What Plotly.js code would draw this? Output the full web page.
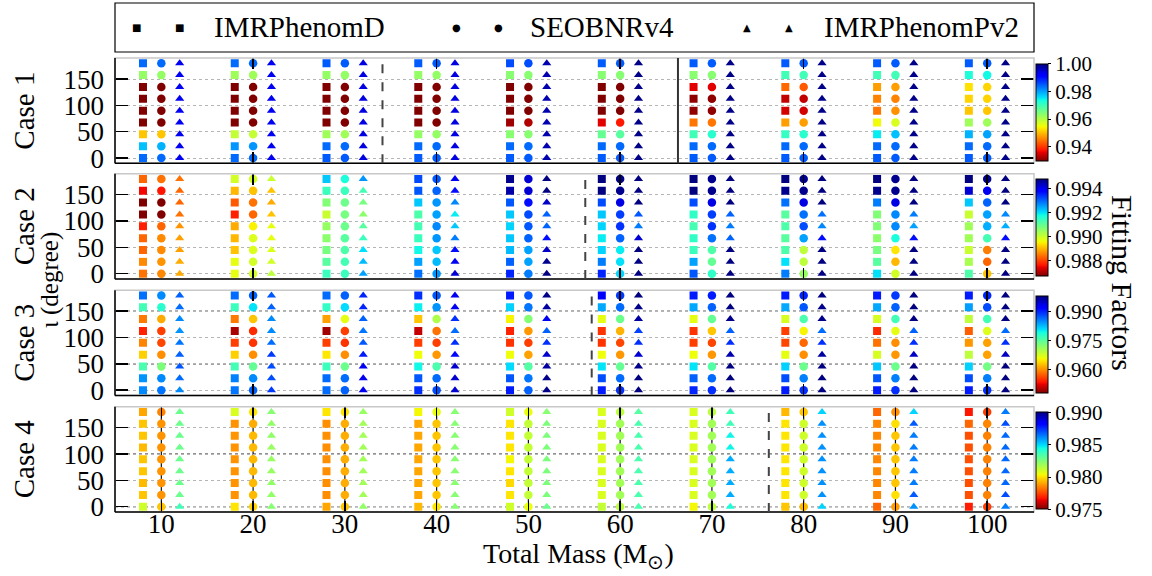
<!DOCTYPE html>
<html><head><meta charset="utf-8">
<script src="https://cdn.plot.ly/plotly-3.0.1.min.js"></script>
<style>html,body{margin:0;padding:0;background:#fff}#chart{width:1152px;height:576px}</style>
</head><body><div id="chart"></div>
<script>
const masses = [10,20,30,40,50,60,70,80,90,100];
const inclinations = [0,22.5,45,67.5,90,112.5,135,157.5,180];
const models = ['IMRPhenomD','SEOBNRv4','IMRPhenomPv2'];
const caseNames = ['Case 1','Case 2','Case 3','Case 4'];

// Fitting factors: rows = total mass (10..100), columns = inclination (0..180)
const case1_IMRPhenomD = [
 [0.984,0.978,0.951,0.925,0.925,0.925,0.925,0.963,0.984],
 [0.984,0.981,0.959,0.925,0.925,0.925,0.925,0.962,0.984],
 [0.985,0.984,0.962,0.925,0.925,0.925,0.925,0.963,0.985],
 [0.985,0.984,0.963,0.925,0.925,0.925,0.925,0.963,0.985],
 [0.985,0.984,0.964,0.932,0.930,0.926,0.926,0.964,0.986],
 [0.985,0.984,0.967,0.936,0.927,0.927,0.928,0.964,0.985],
 [0.985,0.984,0.970,0.945,0.931,0.931,0.936,0.964,0.985],
 [0.985,0.984,0.971,0.948,0.935,0.934,0.944,0.970,0.985],
 [0.985,0.984,0.975,0.955,0.945,0.946,0.948,0.970,0.985],
 [0.985,0.984,0.979,0.962,0.951,0.952,0.953,0.973,0.985]];
const case1_SEOBNRv4 = [
 [0.984,0.979,0.951,0.925,0.925,0.925,0.925,0.963,0.984],
 [0.984,0.981,0.959,0.925,0.925,0.925,0.925,0.962,0.984],
 [0.985,0.984,0.962,0.925,0.925,0.925,0.925,0.963,0.985],
 [0.985,0.984,0.963,0.925,0.925,0.925,0.925,0.963,0.985],
 [0.985,0.984,0.964,0.933,0.928,0.926,0.926,0.964,0.986],
 [0.985,0.984,0.968,0.938,0.927,0.927,0.928,0.964,0.985],
 [0.985,0.984,0.972,0.945,0.931,0.931,0.936,0.964,0.985],
 [0.985,0.984,0.972,0.948,0.935,0.934,0.943,0.970,0.985],
 [0.985,0.984,0.978,0.957,0.947,0.946,0.948,0.970,0.985],
 [0.985,0.984,0.980,0.962,0.951,0.952,0.952,0.974,0.985]];
const case1_IMRPhenomPv2 = [
 [0.993,0.993,0.993,0.993,0.993,0.993,0.993,0.993,0.993],
 [0.993,0.993,0.993,0.993,0.993,0.993,0.993,0.993,0.993],
 [0.994,0.994,0.994,0.994,0.994,0.994,0.994,0.994,0.994],
 [0.994,0.994,0.994,0.994,0.994,0.994,0.994,0.994,0.994],
 [0.997,0.997,0.997,0.997,0.997,0.997,0.997,0.997,0.997],
 [0.9995,0.9995,0.9995,0.9995,0.9995,0.9995,0.9995,0.9995,0.9995],
 [0.9995,0.9995,0.9995,0.9995,0.9995,0.9995,0.9995,0.9995,0.9995],
 [0.9995,0.9995,0.9995,0.9995,0.9995,0.9995,0.9995,0.9995,0.9995],
 [0.9995,0.9995,0.9995,0.9995,0.9995,0.9995,0.9995,0.9995,0.9995],
 [0.9995,0.9995,0.9995,0.9995,0.9995,0.9995,0.9995,0.9995,0.9995]];

const case2_IMRPhenomD = [
 [0.9884,0.9886,0.9883,0.9883,0.9877,0.9864,0.9864,0.9875,0.9883],
 [0.9897,0.9897,0.9891,0.9890,0.9889,0.9877,0.9882,0.9890,0.9899],
 [0.9914,0.9911,0.9908,0.9906,0.9905,0.9900,0.9907,0.9914,0.9922],
 [0.9929,0.9925,0.9918,0.9914,0.9913,0.9912,0.9922,0.9931,0.9932],
 [0.9935,0.9930,0.9923,0.9922,0.9921,0.9922,0.9931,0.9945,0.9947],
 [0.9935,0.9928,0.9921,0.9919,0.9921,0.9922,0.9932,0.9948,0.9948],
 [0.9931,0.9925,0.9914,0.9915,0.9913,0.9915,0.9932,0.9948,0.9948],
 [0.9928,0.9920,0.9912,0.9911,0.9912,0.9911,0.9929,0.9947,0.9948],
 [0.9920,0.9911,0.9908,0.9906,0.9907,0.9907,0.9928,0.9947,0.9948],
 [0.9912,0.9903,0.9900,0.9904,0.9904,0.9900,0.9922,0.9942,0.9948]];
const case2_SEOBNRv4 = [
 [0.9886,0.9887,0.9886,0.9886,0.9883,0.9864,0.9864,0.9876,0.9884],
 [0.9899,0.9899,0.9898,0.9898,0.9895,0.9883,0.9884,0.9891,0.9899],
 [0.9914,0.9913,0.9912,0.9911,0.9909,0.9908,0.9909,0.9914,0.9917],
 [0.9926,0.9923,0.9922,0.9926,0.9927,0.9925,0.9926,0.9930,0.9931],
 [0.9928,0.9925,0.9925,0.9930,0.9931,0.9932,0.9937,0.9942,0.9942],
 [0.9921,0.9920,0.9919,0.9930,0.9934,0.9933,0.9941,0.9947,0.9947],
 [0.9915,0.9910,0.9912,0.9929,0.9934,0.9933,0.9941,0.9947,0.9947],
 [0.9905,0.9901,0.9901,0.9925,0.9932,0.9929,0.9941,0.9947,0.9947],
 [0.9899,0.9890,0.9894,0.9917,0.9927,0.9927,0.9941,0.9947,0.9947],
 [0.9891,0.9883,0.9885,0.9913,0.9924,0.9925,0.9930,0.9940,0.9947]];
const case2_IMRPhenomPv2 = [
 [0.9889,0.9889,0.9888,0.9888,0.9887,0.9884,0.9883,0.9883,0.9884],
 [0.9901,0.9899,0.9898,0.9897,0.9897,0.9891,0.9889,0.9891,0.9900],
 [0.9925,0.9923,0.9920,0.9914,0.9911,0.9906,0.9908,0.9913,0.9926],
 [0.9942,0.9940,0.9937,0.9928,0.9922,0.9919,0.9927,0.9937,0.9940],
 [0.9948,0.9947,0.9943,0.9937,0.9930,0.9930,0.9943,0.9948,0.9949],
 [0.9949,0.9949,0.9948,0.9942,0.9928,0.9931,0.9948,0.9950,0.9950],
 [0.9950,0.9950,0.9950,0.9930,0.9928,0.9930,0.9950,0.9950,0.9950],
 [0.9950,0.9950,0.9950,0.9937,0.9927,0.9929,0.9950,0.9950,0.9950],
 [0.9950,0.9950,0.9950,0.9937,0.9925,0.9928,0.9950,0.9950,0.9950],
 [0.9950,0.9950,0.9950,0.9937,0.9924,0.9927,0.9950,0.9950,0.9950]];

const case3_IMRPhenomD = [
 [0.985,0.9845,0.976,0.9635,0.9595,0.9543,0.959,0.9765,0.9862],
 [0.986,0.9855,0.9765,0.9635,0.9558,0.9498,0.959,0.977,0.9865],
 [0.9865,0.9865,0.977,0.9648,0.9558,0.9495,0.961,0.9775,0.9865],
 [0.9895,0.9875,0.9795,0.966,0.9558,0.951,0.963,0.980,0.9895],
 [0.9905,0.9875,0.981,0.966,0.9552,0.9543,0.9655,0.9815,0.9905],
 [0.9905,0.988,0.9805,0.966,0.9552,0.9552,0.9665,0.9835,0.992],
 [0.990,0.987,0.9805,0.966,0.9558,0.9552,0.9665,0.9835,0.9905],
 [0.9905,0.988,0.9815,0.9665,0.9562,0.9558,0.9675,0.9835,0.9905],
 [0.9905,0.9875,0.982,0.9675,0.9585,0.9548,0.9675,0.9835,0.9905],
 [0.9905,0.988,0.9815,0.969,0.9605,0.9575,0.969,0.984,0.9905]];
const case3_SEOBNRv4 = [
 [0.986,0.985,0.973,0.960,0.9562,0.9558,0.9615,0.978,0.985],
 [0.987,0.985,0.9745,0.960,0.9552,0.9548,0.963,0.9805,0.987],
 [0.987,0.9865,0.974,0.960,0.9552,0.9558,0.9665,0.981,0.987],
 [0.988,0.9865,0.976,0.9605,0.9558,0.9585,0.970,0.9845,0.9875],
 [0.987,0.986,0.9755,0.961,0.9558,0.9605,0.9725,0.986,0.9875],
 [0.9895,0.9865,0.9745,0.9605,0.9562,0.962,0.974,0.9865,0.989],
 [0.9895,0.9865,0.9755,0.9605,0.9562,0.963,0.9745,0.987,0.9905],
 [0.9895,0.9855,0.974,0.960,0.958,0.9655,0.976,0.9875,0.990],
 [0.9895,0.9855,0.974,0.9605,0.960,0.9665,0.9765,0.987,0.989],
 [0.9895,0.9855,0.9735,0.961,0.961,0.967,0.9765,0.988,0.990]];
const case3_IMRPhenomPv2 = [
 [0.985,0.9865,0.9875,0.987,0.986,0.9845,0.985,0.9865,0.987],
 [0.989,0.988,0.988,0.989,0.9865,0.985,0.985,0.987,0.9875],
 [0.993,0.993,0.993,0.9905,0.9875,0.986,0.987,0.990,0.990],
 [0.9945,0.9945,0.9945,0.9915,0.9895,0.9865,0.9895,0.993,0.993],
 [0.9975,0.9975,0.9965,0.9945,0.9895,0.987,0.993,0.9965,0.9975],
 [0.998,0.998,0.9975,0.9945,0.9895,0.9885,0.9965,0.9975,0.998],
 [0.998,0.998,0.998,0.996,0.9895,0.987,0.9975,0.998,0.998],
 [0.998,0.998,0.998,0.9965,0.9895,0.9865,0.9975,0.9975,0.998],
 [0.998,0.998,0.998,0.995,0.9895,0.987,0.998,0.998,0.998],
 [0.998,0.998,0.998,0.995,0.9895,0.9865,0.998,0.998,0.998]];

const case4_IMRPhenomD = [
 [0.981,0.9795,0.9793,0.9795,0.9795,0.9793,0.9795,0.9795,0.979],
 [0.980,0.9787,0.9787,0.9787,0.9787,0.9787,0.9787,0.9787,0.9808],
 [0.979,0.9786,0.9786,0.9786,0.9786,0.9786,0.9786,0.9786,0.980],
 [0.9793,0.979,0.979,0.979,0.979,0.979,0.979,0.979,0.9803],
 [0.981,0.980,0.9798,0.980,0.9803,0.980,0.980,0.980,0.981],
 [0.9812,0.9808,0.9808,0.9808,0.9808,0.9808,0.9808,0.9808,0.9808],
 [0.9803,0.9808,0.9808,0.9808,0.9808,0.9808,0.9808,0.9808,0.9808],
 [0.9795,0.980,0.980,0.980,0.980,0.980,0.980,0.980,0.9793],
 [0.978,0.9785,0.9785,0.9785,0.9785,0.9785,0.9785,0.9785,0.978],
 [0.9768,0.9776,0.9776,0.9776,0.9776,0.9776,0.9776,0.978,0.9767]];
const case4_SEOBNRv4 = [
 [0.9795,0.9787,0.9787,0.9787,0.9787,0.9787,0.9787,0.9787,0.9784],
 [0.9797,0.9793,0.9793,0.9793,0.9793,0.9793,0.9793,0.9791,0.980],
 [0.9795,0.9791,0.9791,0.9791,0.9791,0.9791,0.9791,0.9791,0.980],
 [0.980,0.9795,0.9795,0.9795,0.9795,0.9795,0.9795,0.9795,0.9805],
 [0.9805,0.9812,0.9812,0.9812,0.9812,0.9812,0.9812,0.9812,0.9805],
 [0.9813,0.9818,0.9818,0.9818,0.9818,0.9818,0.9818,0.9818,0.9813],
 [0.9813,0.9818,0.9818,0.9818,0.9818,0.9818,0.9818,0.9818,0.9813],
 [0.9793,0.981,0.981,0.981,0.981,0.981,0.981,0.981,0.9795],
 [0.9788,0.9799,0.9795,0.9795,0.9795,0.9795,0.9795,0.9799,0.9786],
 [0.9773,0.9784,0.9784,0.9784,0.9784,0.9784,0.9784,0.9785,0.9773]];
const case4_IMRPhenomPv2 = [
 [0.9836,0.9828,0.9828,0.9828,0.9828,0.9828,0.9828,0.9828,0.9828],
 [0.9823,0.9821,0.9821,0.982,0.982,0.982,0.9821,0.9821,0.9823],
 [0.9821,0.9818,0.9818,0.9818,0.9818,0.9818,0.9818,0.9818,0.982],
 [0.9823,0.9823,0.9823,0.9823,0.9823,0.9823,0.9823,0.9823,0.9823],
 [0.9828,0.9825,0.9825,0.9825,0.9825,0.9825,0.9825,0.9825,0.9823],
 [0.9834,0.9834,0.9834,0.9834,0.9834,0.9834,0.9834,0.9834,0.9832],
 [0.9842,0.9856,0.9856,0.9856,0.9856,0.9845,0.9845,0.9836,0.9836],
 [0.985,0.986,0.986,0.986,0.986,0.986,0.986,0.986,0.985],
 [0.986,0.9868,0.9863,0.9863,0.9863,0.9863,0.9863,0.9868,0.985],
 [0.9863,0.987,0.9866,0.9866,0.9866,0.9866,0.9866,0.987,0.9863]];

const colorRanges = [[0.93,1.00],[0.9867,0.9948],[0.948,0.998],[0.975,0.990]];
const colorbarTicks = [[0.94,0.96,0.98,1.00],[0.988,0.990,0.992,0.994],[0.960,0.975,0.990],[0.975,0.980,0.985,0.990]];
const colorbarFormats = ['.2f','.3f','.3f','.3f'];
const dashedLines = [[34.1],[56.2],[56.9],[76.2]];
const solidLines = [[66.3],[],[],[]];
const blackDottedGrid = [[],[],[50,150],[0,100]];
const case4MassLines = masses;

// ---------------- styling ----------------
const FONT = 'Liberation Serif, Times New Roman, serif';
const W = 1152, H = 576;
const M = {l:115, r:118, t:58, b:64};
const PW = W - M.l - M.r, PH = H - M.t - M.b;
const px2x = p => (p - M.l) / PW;
const py2y = p => (H - M.b - p) / PH;
const domains = [[0.768,1.0],[0.5133,0.7453],[0.2567,0.4887],[0,0.232]];
const symbols = ['square','circle','triangle-up'];
const sizes = [8,8.5,8];
const offsets = [-2, 0, 2];
const data = [
 [case1_IMRPhenomD, case1_SEOBNRv4, case1_IMRPhenomPv2],
 [case2_IMRPhenomD, case2_SEOBNRv4, case2_IMRPhenomPv2],
 [case3_IMRPhenomD, case3_SEOBNRv4, case3_IMRPhenomPv2],
 [case4_IMRPhenomD, case4_SEOBNRv4, case4_IMRPhenomPv2]];

// matplotlib "jet" reversed
const jetR=[[0,0],[0.35,0],[0.66,1],[0.89,1],[1,0.5]];
const jetG=[[0,0],[0.125,0],[0.375,1],[0.64,1],[0.91,0],[1,0]];
const jetB=[[0,0.5],[0.11,1],[0.34,1],[0.65,0],[1,0]];
function seg(s,x){for(let i=0;i<s.length-1;i++){if(x>=s[i][0]&&x<=s[i+1][0]){const f=(x-s[i][0])/(s[i+1][0]-s[i][0]||1);return s[i][1]+f*(s[i+1][1]-s[i][1]);}}return s[s.length-1][1];}
const jet_r=[];
for(let i=0;i<=100;i++){const p=i/100,q=1-p;jet_r.push([p,`rgb(${Math.round(255*seg(jetR,q))},${Math.round(255*seg(jetG,q))},${Math.round(255*seg(jetB,q))})`]);}

const traces=[]; const layout={
 width:W,height:H,margin:M,paper_bgcolor:'#fff',plot_bgcolor:'#fff',showlegend:false,
 font:{family:FONT,color:'#000'},shapes:[],annotations:[]};

for(let c=0;c<4;c++){
 const sfx = c===0?'':String(c+1);
 const xa='x'+sfx, ya='y'+sfx;
 for(let m=0;m<3;m++){
  const xs=[],ys=[],cs=[];
  masses.forEach((ms,j)=>inclinations.forEach((inc,k)=>{xs.push(ms+offsets[m]);ys.push(inc);cs.push(data[c][m][j][k]);}));
  const yc=(domains[c][0]+domains[c][1])/2 - 1.5/PH;
  traces.push({type:'scatter',mode:'markers',x:xs,y:ys,xaxis:xa,yaxis:ya,name:models[m],
   marker:{symbol:symbols[m],size:sizes[m],color:cs,cmin:colorRanges[c][0],cmax:colorRanges[c][1],colorscale:jet_r,line:{width:0},
    showscale:m===0,
    colorbar:{x:px2x(1036),xanchor:'left',xpad:0,y:yc,yanchor:'middle',ypad:0,len:97,lenmode:'pixels',thickness:12,
      outlinewidth:1,outlinecolor:'#000',tickvals:colorbarTicks[c],tickformat:colorbarFormats[c],ticks:'outside',ticklen:3,
      tickcolor:'#000',tickfont:{family:FONT,size:21,color:'#000'}}}});
 }
 layout['xaxis'+sfx]={domain:[0,1],range:[4.95,105.1],anchor:ya,showgrid:false,zeroline:false,showline:false,
   ticks:'inside',ticklen:11,tickwidth:1.5,tickcolor:'#000',mirror:'ticks',ticklabelstandoff:-7,
   tickvals:c<3?[20,40,60,80,100]:masses,showticklabels:c===3,tickfont:{family:FONT,size:27,color:'#000'}};
 layout['yaxis'+sfx]={domain:domains[c],range:[-10,190],anchor:xa,zeroline:false,showline:false,
   tickvals:[0,50,100,150],ticks:'inside',ticklen:13,tickwidth:1.5,tickcolor:'#000',mirror:'ticks',
   showgrid:true,gridcolor:'#b5b5b5',griddash:'dot',gridwidth:1,ticklabelstandoff:10,
   tickfont:{family:FONT,size:27,color:'#000'}};
 // frame
 layout.shapes.push({type:'rect',xref:xa+' domain',yref:ya+' domain',x0:0,x1:1,y0:0,y1:1,line:{color:'#c8c8c8',width:1.5},layer:'above'});
 layout.shapes.push({type:'line',xref:xa+' domain',yref:ya+' domain',x0:0,x1:0,y0:0,y1:1,line:{color:'#000',width:1.5},layer:'above'});
 layout.shapes.push({type:'line',xref:xa+' domain',yref:ya+' domain',x0:0,x1:1,y0:0,y1:0,line:{color:'#000',width:1.5},layer:'above'});
 blackDottedGrid[c].forEach(v=>layout.shapes.push({type:'line',xref:xa+' domain',yref:ya,x0:0,x1:1,y0:v,y1:v,line:{color:'#000',width:1,dash:'dot'},layer:'below'}));
 if(c===3) case4MassLines.forEach(v=>layout.shapes.push({type:'line',xref:xa,yref:ya+' domain',x0:v,x1:v,y0:0,y1:1,line:{color:'#111',width:1.2},layer:'below'}));
 dashedLines[c].forEach(v=>layout.shapes.push({type:'line',xref:xa,yref:ya+' domain',x0:v,x1:v,y0:0,y1:1,line:{color:'#444',width:2,dash:'dash'},layer:'above'}));
 solidLines[c].forEach(v=>layout.shapes.push({type:'line',xref:xa,yref:ya+' domain',x0:v,x1:v,y0:0,y1:1,line:{color:'#333',width:2},layer:'above'}));
 layout.annotations.push({text:caseNames[c],xref:'paper',yref:ya+' domain',x:px2x(24),y:0.5,xanchor:'center',yanchor:'middle',textangle:-90,showarrow:false,font:{family:FONT,size:29,color:'#000'}});
}
// axis titles
layout.annotations.push({text:'ι (degree)',xref:'paper',yref:'paper',x:px2x(50),y:py2y(280),xanchor:'center',yanchor:'middle',textangle:-90,showarrow:false,font:{family:FONT,size:25,color:'#000'}});
layout.annotations.push({text:'Fitting Factors',xref:'paper',yref:'paper',x:px2x(1123),y:py2y(283),xanchor:'center',yanchor:'middle',textangle:90,showarrow:false,font:{family:FONT,size:30,color:'#000'}});
layout.annotations.push({text:'Total Mass (M<sub>⊙</sub>)',xref:'paper',yref:'paper',x:px2x(578),y:py2y(555),xanchor:'center',yanchor:'middle',showarrow:false,font:{family:FONT,size:28,color:'#000'}});
// legend box
layout.shapes.push({type:'rect',xref:'paper',yref:'paper',x0:0,x1:1,y0:py2y(52),y1:py2y(3),line:{color:'#000',width:1.2},fillcolor:'rgba(0,0,0,0)'});
const legendGlyphs=['■','●','▲'];
const legendMarkerX=[[136,179],[456,498],[747,789]];
const legendTextX=[212,528,822];
for(let m=0;m<3;m++){
 legendMarkerX[m].forEach(px=>layout.annotations.push({text:legendGlyphs[m],xref:'paper',yref:'paper',x:px2x(px),y:py2y(27),xanchor:'center',yanchor:'middle',showarrow:false,font:{family:'DejaVu Sans',size:10,color:'#000'}}));
 layout.annotations.push({text:models[m],xref:'paper',yref:'paper',x:px2x(legendTextX[m]),y:py2y(27),xanchor:'left',yanchor:'middle',showarrow:false,font:{family:FONT,size:29,color:'#000'}});
}
Plotly.newPlot('chart',traces,layout,{displayModeBar:false,staticPlot:true});
</script></body></html>
